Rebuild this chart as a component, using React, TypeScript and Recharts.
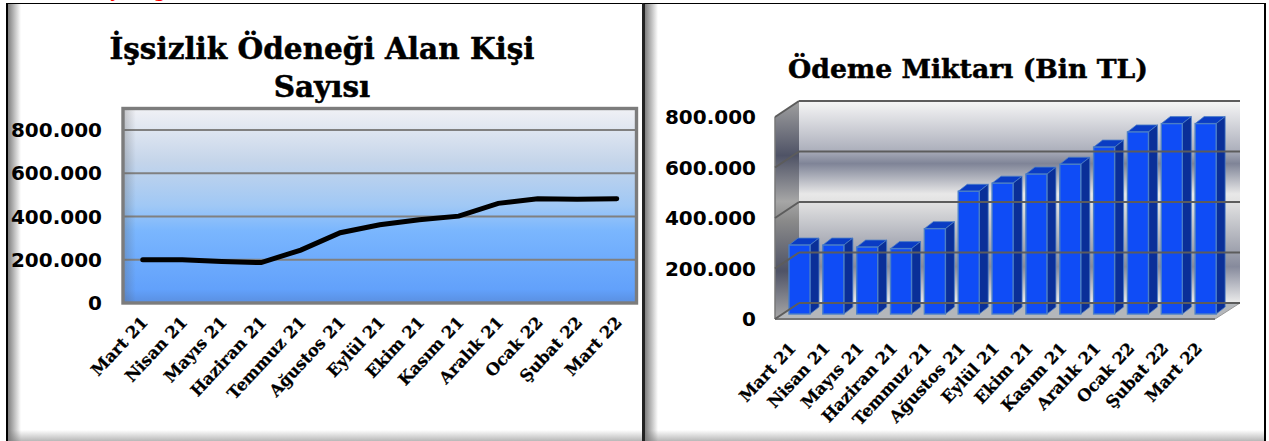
import { BarChart, Bar, LineChart, Line, XAxis, YAxis, CartesianGrid, ReferenceArea, ReferenceLine } from "recharts";

const MONTHS = ["Mart 21", "Nisan 21", "Mayıs 21", "Haziran 21", "Temmuz 21", "Ağustos 21", "Eylül 21", "Ekim 21", "Kasım 21", "Aralık 21", "Ocak 22", "Şubat 22", "Mart 22"];
const RECIPIENTS = [200000, 200000, 192000, 187000, 245000, 325000, 362000, 385000, 402000, 461000, 482000, 480000, 482000];
const PAYMENTS = [273000, 273000, 265000, 259000, 338000, 486000, 518000, 554000, 593000, 661000, 721000, 754000, 754000];
const TICKS = [0, 200000, 400000, 600000, 800000];

const lineData = MONTHS.map((month, i) => ({ month, value: RECIPIENTS[i] }));
const barData = MONTHS.map((month, i) => ({ month, value: PAYMENTS[i] }));

const NUM_FONT = "'DejaVu Sans', sans-serif";
const TITLE_FONT = "'DejaVu Serif', serif";

const formatTick = (v: number) => (v === 0 ? "0" : v.toLocaleString("de-DE"));

function MonthTick({ x, y, payload, dx, dy }: any) {
  return (
    <text
      x={x + dx}
      y={y + dy}
      textAnchor="end"
      transform={`rotate(-47 ${x + dx} ${y + dy})`}
      fontFamily={TITLE_FONT}
      fontWeight="bold"
      fontSize={16.5}
      stroke="#000"
      strokeWidth={0.25}
      fill="#000"
    >
      {payload.value}
    </text>
  );
}

function ValueTick({ x, y, payload, dy }: any) {
  return (
    <text x={x} y={y + dy} textAnchor="end" dominantBaseline="central" fontFamily={NUM_FONT} fontWeight="bold" fontSize={20} fill="#000">
      {formatTick(payload.value)}
    </text>
  );
}

function Title({ x, y, children, size }: any) {
  return (
    <text x={x} y={y} textAnchor="middle" fontFamily={TITLE_FONT} fontWeight="bold" fontSize={size} stroke="#000" strokeWidth={0.5} fill="#000">
      {children}
    </text>
  );
}

function Frame({ x, y, width, height }: any) {
  return (
    <g>
      <rect x={x} y={y} width={width} height={height} fill="url(#plotEdge)" />
      <rect x={x} y={y} width={width} height={height} fill="none" stroke="#7c7c7c" strokeWidth={3.4} />
    </g>
  );
}

function Walls({ x, y, width, height }: any) {
  const fx = x - 8;
  const fy = y + 5;
  const bottom = y + height + 5;
  const right = x + width - 8;
  return (
    <g>
      <rect x={fx + 24} y={fy - 16} width={width + 1} height={height} fill="url(#backWall)" />
      <polygon points={`${fx},${fy} ${fx + 24},${fy - 16} ${fx + 24},${bottom - 16} ${fx},${bottom}`} fill="url(#sideWall)" />
      <polygon points={`${fx},${bottom} ${right},${bottom} ${right + 25},${bottom - 16} ${fx + 24},${bottom - 16}`} fill="#b4b7bb" />
      <line x1={fx} y1={bottom} x2={right} y2={bottom} stroke="#777" strokeWidth={2} />
      <line x1={right} y1={bottom} x2={right + 25} y2={bottom - 16} stroke="#999" strokeWidth={1} />
      <line x1={fx} y1={fy} x2={fx} y2={bottom} stroke="#777" strokeWidth={1.5} />
    </g>
  );
}

function WallLine({ x1, y1, x2, y2 }: any) {
  return (
    <g stroke="#5c5c5c" strokeWidth={2}>
      <line x1={x1 - 8} y1={y1 + 5} x2={x1 + 16} y2={y1 - 11} />
      <line x1={x1 + 16} y1={y1 - 11} x2={x2 + 17} y2={y2 - 11} />
    </g>
  );
}

function Bar3D({ x, y, width, height }: any) {
  const dx = 9;
  const dy = 7;
  const edge = "#4a7ec6";
  return (
    <g>
      <polygon points={`${x},${y} ${x + dx},${y - dy} ${x + width + dx},${y - dy} ${x + width},${y}`} fill="#0a3cc4" stroke={edge} strokeWidth={0.8} />
      <polygon points={`${x + width},${y} ${x + width + dx},${y - dy} ${x + width + dx},${y + height - dy} ${x + width},${y + height}`} fill="#0a2f98" stroke={edge} strokeWidth={0.8} />
      <rect x={x} y={y} width={width} height={height} fill="#0f4cf6" stroke={edge} strokeWidth={1.4} />
    </g>
  );
}

function RecipientsChart() {
  return (
    <div style={{ position: "absolute", left: 0, top: 0 }}>
      <LineChart width={640} height={441} data={lineData} margin={{ top: 108.5, right: 3.5, bottom: 0, left: 0 }}>
        <defs>
          <linearGradient id="plotFill" x1="0" y1="0" x2="0" y2="1">
            <stop offset="0" stopColor="#f0f1f5" />
            <stop offset="0.27" stopColor="#c5d5ea" />
            <stop offset="0.5" stopColor="#a0c8f5" />
            <stop offset="0.63" stopColor="#7ab6fe" />
            <stop offset="0.93" stopColor="#62a1fb" />
            <stop offset="1" stopColor="#5a8fe0" />
          </linearGradient>
          <linearGradient id="plotEdge" x1="0" y1="0" x2="1" y2="0">
            <stop offset="0" stopColor="#555" stopOpacity={0.3} />
            <stop offset="0.025" stopColor="#555" stopOpacity={0} />
          </linearGradient>
        </defs>
        <text x={113} y={-3} textAnchor="middle" fontFamily={NUM_FONT} fontWeight="bold" fontSize={18} fill="#f00">ş</text>
        <text x={160} y={-3} textAnchor="middle" fontFamily={NUM_FONT} fontWeight="bold" fontSize={18} fill="#f00">ğ</text>
        <Title x={322} y={59} size={29.5}>İşsizlik Ödeneği Alan Kişi</Title>
        <Title x={322} y={97} size={29.5}>Sayısı</Title>
        <CartesianGrid fill="url(#plotFill)" vertical={false} stroke="#808080" strokeWidth={2} strokeOpacity={1} />
        <XAxis dataKey="month" scale="band" interval={0} height={138} axisLine={false} tickLine={false} tick={(p: any) => <MonthTick {...p} dx={6} dy={12} />} />
        <YAxis width={123} domain={[0, 900000]} ticks={TICKS} axisLine={false} tickLine={false} tickSize={0} tickMargin={21} tick={(p: any) => <ValueTick {...p} dy={0} />} />
        <ReferenceArea y1={0} y2={900000} shape={Frame} ifOverflow="visible" />
        <Line dataKey="value" stroke="#000" strokeWidth={5} strokeLinecap="round" dot={false} isAnimationActive={false} />
      </LineChart>
    </div>
  );
}

function PaymentsChart() {
  return (
    <div style={{ position: "absolute", left: 640, top: 0 }}>
      <BarChart width={629} height={441} data={barData} barSize={21} margin={{ top: 112, right: 46, bottom: 0, left: 0 }}>
        <defs>
          <linearGradient id="backWall" x1="0" y1="0" x2="0" y2="1">
            <stop offset="0" stopColor="#f6f6f6" />
            <stop offset="0.24" stopColor="#aeb1bd" />
            <stop offset="0.31" stopColor="#7f8497" />
            <stop offset="0.46" stopColor="#e8e8e8" />
            <stop offset="0.5" stopColor="#e2e2e2" />
            <stop offset="0.74" stopColor="#9fa2ae" />
            <stop offset="0.82" stopColor="#868a9c" />
            <stop offset="1" stopColor="#ececec" />
          </linearGradient>
          <linearGradient id="sideWall" x1="0" y1="0" x2="0" y2="1">
            <stop offset="0" stopColor="#a0a0a0" />
            <stop offset="0.25" stopColor="#4f5366" />
            <stop offset="0.46" stopColor="#a6a6a6" />
            <stop offset="0.55" stopColor="#8a8a8a" />
            <stop offset="0.78" stopColor="#4f5366" />
            <stop offset="1" stopColor="#a8a8a8" />
          </linearGradient>
        </defs>
        <Title x={328} y={78} size={26.7}>Ödeme Miktarı (Bin TL)</Title>
        <ReferenceArea y1={0} y2={800000} shape={Walls} ifOverflow="visible" />
        {TICKS.map((t) => (
          <ReferenceLine key={t} y={t} shape={WallLine} ifOverflow="visible" />
        ))}
        <XAxis dataKey="month" interval={0} height={127} axisLine={false} tickLine={false} tick={(p: any) => <MonthTick {...p} dx={-3} dy={27} />} />
        <YAxis width={143} domain={[0, 800000]} ticks={TICKS} axisLine={false} tickLine={false} tickSize={0} tickMargin={27} tick={(p: any) => <ValueTick {...p} dy={5} />} />
        <Bar dataKey="value" shape={Bar3D} isAnimationActive={false} />
      </BarChart>
    </div>
  );
}

const panelShade =
  "linear-gradient(to right, rgba(120,120,120,0.95), rgba(120,120,120,0) 13px), linear-gradient(to top, rgba(160,160,160,0.75), rgba(160,160,160,0) 11px)";

export default function App() {
  return (
    <div style={{ position: "absolute", left: 0, top: 0, width: 1269, height: 441, overflow: "hidden", background: "#fff" }}>
      <div style={{ position: "absolute", left: 6, top: 3, width: 636, height: 438, borderLeft: "2px solid #000", borderTop: "1px solid #000", background: panelShade, boxSizing: "border-box" }} />
      <div style={{ position: "absolute", left: 642, top: 3, width: 624, height: 438, borderLeft: "3px solid #222", borderTop: "1px solid #000", borderRight: "2px solid #000", background: panelShade, boxSizing: "border-box" }} />
      <RecipientsChart />
      <PaymentsChart />
    </div>
  );
}
